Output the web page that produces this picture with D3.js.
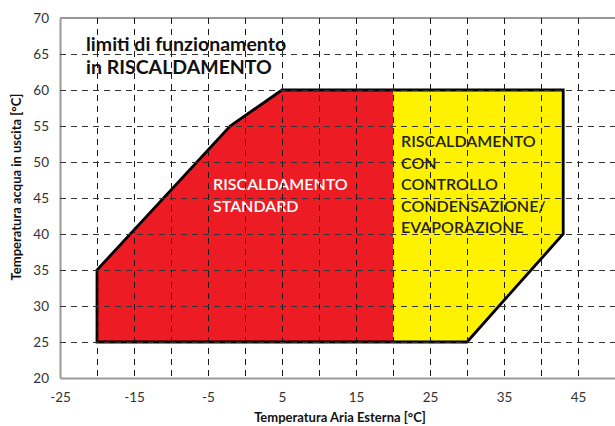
<!DOCTYPE html>
<html>
<head>
<meta charset="utf-8">
<script src="https://cdn.jsdelivr.net/npm/d3@7"></script>
<style>
  html, body { margin: 0; padding: 0; background: #fff; }
  svg { display: block; font-family: Lato, "Noto Sans", sans-serif; }
</style>
</head>
<body>
<svg id="chart" width="615" height="426"></svg>
<script>
// Operating envelope in heating mode: outdoor air temperature vs leaving water temperature
const envelopeX = [-20, -20, -2, 5, 20, 43, 43, 30, 20];
const envelopeY = [25, 35, 55, 60, 60, 60, 40, 25, 25];

// Standard heating zone (air temperature up to 20 °C)
const standardX = [-20, -20, -2, 5, 20, 20];
const standardY = [25, 35, 55, 60, 60, 25];

// Heating with condensation/evaporation control (above 20 °C)
const controlX = [20, 20, 43, 43, 30];
const controlY = [25, 60, 60, 40, 25];

const xTickLabels = [-25, -15, -5, 5, 15, 25, 35, 45];
const yTickLabels = [20, 25, 30, 35, 40, 45, 50, 55, 60, 65, 70];
const xGrid = [-20, -15, -10, -5, 0, 5, 10, 15, 20, 25, 30, 35, 40, 45];
const yGrid = [25, 30, 35, 40, 45, 50, 55, 60, 65];

const titleLines = ["limiti di funzionamento", "in RISCALDAMENTO"];
const standardLabel = ["RISCALDAMENTO", "STANDARD"];
const controlLabel = ["RISCALDAMENTO", "CON", "CONTROLLO", "CONDENSAZIONE/", "EVAPORAZIONE"];

const svg = d3.select("#chart");
const margin = { left: 60, top: 18, right: 0, bottom: 48 };
const W = 615, H = 426;

const xScale = d3.scaleLinear().domain([-25, 50]).range([margin.left, W - margin.right]);
const yScale = d3.scaleLinear().domain([20, 70]).range([H - margin.bottom, margin.top]);
const plotTop = yScale(70), plotBottom = yScale(20), plotLeft = xScale(-25);

const pts = (xs, ys) => xs.map((v, i) => [xScale(v), yScale(ys[i])]);
const pathGen = d3.line();

// zone fills
svg.append("path").attr("d", pathGen(pts(standardX, standardY)) + "Z").attr("fill", "#ED1C24");
svg.append("path").attr("d", pathGen(pts(controlX, controlY)) + "Z").attr("fill", "#FFF200");

// zone labels
svg.append("g").selectAll("text").data(standardLabel).join("text")
  .attr("x", 213).attr("y", (d, i) => 190 + i * 21.5)
  .attr("fill", "#fff").attr("font-size", 16).attr("font-weight", 600)
  .text(d => d);

svg.append("g").selectAll("text").data(controlLabel).join("text")
  .attr("x", 401).attr("y", (d, i) => 147 + i * 21.5)
  .attr("fill", "#231f20").attr("font-size", 16).attr("font-weight", 600)
  .text(d => d);

// envelope outline
svg.append("path").attr("d", pathGen(pts(envelopeX, envelopeY)) + "Z")
  .attr("fill", "none").attr("stroke", "#000").attr("stroke-width", 2.8)
  .attr("stroke-linejoin", "miter");

// frame: top border, left and bottom axes
svg.append("line").attr("x1", plotLeft).attr("x2", W).attr("y1", plotTop).attr("y2", plotTop)
  .attr("stroke", "#333").attr("stroke-width", 1.2);

const fmt = d => String(d);
const xAxis = d3.axisBottom(xScale).tickValues(xTickLabels).tickSize(0).tickPadding(14).tickFormat(fmt);
const yAxis = d3.axisLeft(yScale).tickValues(yTickLabels).tickSize(0).tickPadding(11).tickFormat(fmt);

const gx = svg.append("g").attr("transform", `translate(0,${plotBottom})`).call(xAxis);
const gy = svg.append("g").attr("transform", `translate(${plotLeft},0)`).call(yAxis);
[gx, gy].forEach(g => {
  g.select(".domain").attr("stroke", "#9a9a9a").attr("stroke-width", 2);
  g.selectAll("text").attr("font-size", 13.5).attr("fill", "#333")
    .attr("font-family", "Lato, 'Noto Sans', sans-serif");
});

// title
svg.append("g").selectAll("text").data(titleLines).join("text")
  .attr("x", 86).attr("y", (d, i) => 51 + i * 22.5)
  .attr("fill", "#111").attr("font-size", 19.5).attr("font-weight", 700)
  .text(d => d);

// axis titles
svg.append("text").attr("x", 340).attr("y", 422).attr("text-anchor", "middle")
  .attr("font-size", 13).attr("font-weight", 700).attr("fill", "#111")
  .text("Temperatura Aria Esterna [°C]");
svg.append("text").attr("transform", "translate(21,187) rotate(-90)").attr("text-anchor", "middle")
  .attr("font-size", 13).attr("font-weight", 700).attr("fill", "#111")
  .text("Temperatura acqua in uscita [°C]");

// dashed grid drawn last so it runs over the zones and their labels
const grid = svg.append("g").attr("fill", "none").attr("shape-rendering", "crispEdges");
grid.selectAll("line.v").data(xGrid).join("line").attr("class", "v")
  .attr("x1", v => Math.round(xScale(v)) + 0.5).attr("x2", v => Math.round(xScale(v)) + 0.5)
  .attr("y1", plotTop).attr("y2", plotBottom)
  .attr("stroke", "#1a1a1a").attr("stroke-width", 1).attr("stroke-dasharray", "6 5");
grid.selectAll("line.h").data(yGrid).join("line").attr("class", "h")
  .attr("x1", plotLeft).attr("x2", W)
  .attr("y1", v => Math.round(yScale(v)) + 0.5).attr("y2", v => Math.round(yScale(v)) + 0.5)
  .attr("stroke", "#333").attr("stroke-width", 1).attr("stroke-dasharray", "6 5");
</script>
</body>
</html>
